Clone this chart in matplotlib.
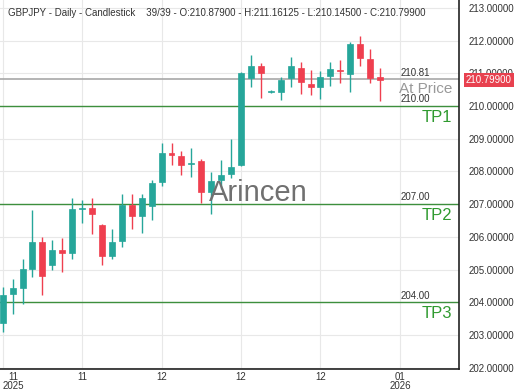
import matplotlib
matplotlib.use("Agg")
import matplotlib.pyplot as plt
from matplotlib.patches import Rectangle
import matplotlib.transforms as mtransforms

plt.rcParams['font.family'] = ['Liberation Sans', 'DejaVu Sans']

# ---- data ----
opens  = [203.37, 204.25, 204.44, 205.02, 205.84, 205.14, 205.60, 205.51, 206.85, 206.88,
          206.36, 205.42, 205.87, 206.98, 206.64, 206.94, 207.68, 208.57, 208.47, 208.22,
          208.32, 207.37, 207.74, 207.92, 208.20, 210.86, 211.23, 210.42, 210.43, 210.86,
          211.17, 210.68, 210.58, 210.92, 211.10, 210.98, 211.90, 211.44, 210.879]
highs  = [204.47, 204.71, 205.32, 206.82, 206.00, 205.91, 205.97, 207.19, 207.13, 207.19,
          206.40, 206.24, 207.31, 207.31, 207.31, 207.74, 208.87, 208.87, 208.63, 208.72,
          208.38, 207.98, 208.35, 208.99, 211.04, 211.56, 211.32, 210.49, 210.89, 211.50,
          211.35, 211.10, 211.07, 211.35, 211.41, 211.96, 212.14, 211.75, 211.16125]
lows   = [203.09, 203.64, 203.95, 204.77, 204.22, 204.99, 204.93, 205.32, 206.43, 206.09,
          205.14, 205.32, 205.69, 206.24, 206.12, 206.52, 207.56, 208.20, 207.89, 207.83,
          207.04, 206.70, 207.46, 207.80, 208.17, 210.58, 210.25, 210.40, 210.19, 210.58,
          210.37, 210.34, 210.22, 210.61, 210.71, 210.43, 211.23, 210.71, 210.145]
closes = [204.22, 204.44, 205.02, 205.84, 204.80, 205.60, 205.51, 206.85, 206.88, 206.70,
          205.42, 205.84, 206.98, 206.64, 207.19, 207.65, 208.57, 208.50, 208.20, 208.24,
          207.37, 207.71, 207.89, 208.14, 211.01, 211.23, 211.01, 210.44, 210.80, 211.23,
          210.74, 210.58, 210.89, 211.13, 211.07, 211.90, 211.47, 210.86, 210.799]

tick_pos = [0, 8, 16, 24, 32, 40]
tick_labels = ["11\n2025", "11", "12", "12", "12", "01\n2026"]
y_ticks = [202, 203, 204, 205, 206, 207, 208, 209, 210, 211, 212, 213]

level_values = [210.00, 207.00, 204.00]
level_names = ["TP1", "TP2", "TP3"]
at_price = 210.81
last_close = 210.799

title = ("GBPJPY - Daily - Candlestick    39/39 - O:210.87900 - H:211.16125 - "
         "L:210.14500 - C:210.79900")

UP = '#26a69a'
DOWN = '#ef3f4f'
GREEN_LINE = '#3d8f3d'
TP_GREEN = '#2f9a2f'

fig = plt.figure(figsize=(5.2, 3.9), dpi=100)
ax = fig.add_axes([0, 21/390, 459/520, 369/390])

ax.set_xlim(-0.27, 45.95)
ax.set_ylim(201.96, 213.24)

# grid
for yv in y_ticks:
    ax.axhline(yv, color='#e8e8e8', lw=0.8, zorder=0)
for xv in tick_pos:
    ax.axvline(xv, color='#e8e8e8', lw=0.8, zorder=0)

# candles
w = 0.6
for i, (o, h, l, c) in enumerate(zip(opens, highs, lows, closes)):
    col = UP if c >= o else DOWN
    ax.vlines(i, l, h, color=col, lw=1.0, zorder=3)
    bottom = min(o, c)
    height = max(abs(c - o), 0.04)
    ax.add_patch(Rectangle((i - w/2, bottom), w, height, facecolor=col,
                           edgecolor=col, lw=0.5, zorder=4))

# level lines
ax.axhline(at_price, color='#a8a8a8', lw=1.2, zorder=2)
for v in level_values:
    ax.axhline(v, color=GREEN_LINE, lw=1.0, zorder=2)

trans = mtransforms.blended_transform_factory(ax.transAxes, ax.transData)
ax.text(0.937, at_price + 0.05, f"{at_price:.2f}", transform=trans, ha='right',
        va='bottom', fontsize=7, color='#333333', zorder=5)
ax.text(0.985, at_price - 0.08, "At Price", transform=trans, ha='right', va='top',
        fontsize=11, color='#999999', zorder=5)
for v, name in zip(level_values, level_names):
    ax.text(0.937, v + 0.05, f"{v:.2f}", transform=trans, ha='right', va='bottom',
            fontsize=7, color='#333333', zorder=5)
    ax.text(0.985, v - 0.12, name, transform=trans, ha='right', va='top',
            fontsize=12, color=TP_GREEN, zorder=5)

# watermark
ax.text(0.562, 0.477, "Arincen", transform=ax.transAxes, ha='center', va='center',
        fontsize=21, color='#707070', zorder=6)

# title
ax.text(0.017, 0.978, title, transform=ax.transAxes, ha='left', va='top',
        fontsize=7, color='#333333', zorder=6)

# axes styling
for s in ['top', 'left']:
    ax.spines[s].set_visible(False)
ax.spines['right'].set_color('#222222')
ax.spines['bottom'].set_color('#222222')
ax.spines['right'].set_linewidth(1.2)
ax.spines['bottom'].set_linewidth(1.2)

ax.set_xticks(tick_pos)
ax.set_xticklabels(tick_labels, fontsize=7, color='#333333', linespacing=0.95)
first = ax.get_xticklabels()[0]
first.set_horizontalalignment('left')
first.set_multialignment('center')
ax.tick_params(axis='x', length=0, pad=2)

ax.yaxis.tick_right()
ax.set_yticks(y_ticks)
ax.set_yticklabels([f"{v:.5f}" for v in y_ticks], fontsize=7, color='#333333')
ax.tick_params(axis='y', length=0, pad=7)

# current price tag
ax.annotate(f"{last_close:.5f}", xy=(1.0, last_close), xycoords=trans,
            xytext=(5, 0), textcoords='offset points', ha='left', va='center',
            fontsize=7, color='white',
            bbox=dict(boxstyle='square,pad=0.2', facecolor='#e8414f', edgecolor='none'),
            annotation_clip=False, zorder=7)

fig.savefig("out.png", dpi=100)
